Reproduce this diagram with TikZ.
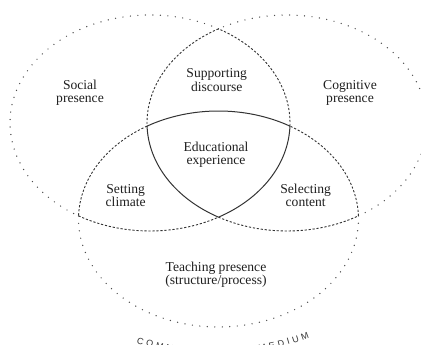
\documentclass[tikz,border=0pt]{standalone}
\usepackage{fontspec}
\setmainfont{Liberation Serif}
\newfontfamily\capsfont{Liberation Sans}
\begin{document}
\begin{tikzpicture}[x=1pt,y=1pt,
  outerline/.style={line width=1.4pt, line cap=round, dash pattern=on 0pt off 7.5pt, draw=black!70},
  innerline/.style={line width=0.9pt, dash pattern=on 2.2pt off 1.8pt, draw=black!80},
  coreline/.style={line width=1pt, draw=black!80},
  lbl/.style={align=center, inner sep=0pt, font=\fontsize{13.6}{13.4}\selectfont, text=black!88},
  arcletter/.style={inner sep=0pt, anchor=base, font=\capsfont\fontsize{9}{10}\selectfont, text=black!80}]
\useasboundingbox (0,0) rectangle (421,345);
\clip (0,0) rectangle (421,345);
\coordinate (L) at (150,222);
\coordinate (R) at (287,222);
\coordinate (B) at (218.5,126);
\coordinate (T) at (215,256);
% Social presence ellipse
\draw[outerline] (L) ++(60.7:140 and 108) arc[start angle=60.7, end angle=239.3, x radius=140, y radius=108];
\draw[innerline] (L) ++(-1.64:140 and 108) arc[start angle=-1.64, end angle=60.7, x radius=140, y radius=108];
\draw[coreline] (L) ++(-60.7:140 and 108) arc[start angle=-60.7, end angle=-1.64, x radius=140, y radius=108];
\draw[innerline] (L) ++(-120.7:140 and 108) arc[start angle=-120.7, end angle=-60.7, x radius=140, y radius=108];
% Cognitive presence ellipse
\draw[outerline] (R) ++(-59.3:140 and 108) arc[start angle=-59.3, end angle=119.3, x radius=140, y radius=108];
\draw[innerline] (R) ++(119.3:140 and 108) arc[start angle=119.3, end angle=181.64, x radius=140, y radius=108];
\draw[coreline] (R) ++(181.64:140 and 108) arc[start angle=181.64, end angle=240.7, x radius=140, y radius=108];
\draw[innerline] (R) ++(240.7:140 and 108) arc[start angle=240.7, end angle=300.7, x radius=140, y radius=108];
% Teaching presence ellipse
\draw[outerline] (B) ++(178.34:140 and 108) arc[start angle=178.34, end angle=361.66, x radius=140, y radius=108];
\draw[innerline] (B) ++(1.66:140 and 108) arc[start angle=1.66, end angle=59.3, x radius=140, y radius=108];
\draw[coreline] (B) ++(59.3:140 and 108) arc[start angle=59.3, end angle=120.7, x radius=140, y radius=108];
\draw[innerline] (B) ++(120.7:140 and 108) arc[start angle=120.7, end angle=178.34, x radius=140, y radius=108];
% labels
\node[lbl] (social) at (80,252) {Social\\presence};
\node[lbl] (support) at (216.7,265) {Supporting\\discourse};
\node[lbl] (cognitive) at (350,252) {Cognitive\\presence};
\node[lbl] (edu) at (216,190) {Educational\\experience};
\node[lbl] (setting) at (125.7,149.5) {Setting\\climate};
\node[lbl] (selecting) at (305.7,149.5) {Selecting\\content};
\node[lbl] (teaching) at (216,70) {Teaching presence\\(structure/process)};
% curved caption
\foreach \s/\ch [count=\i] in {3.07/C,12.89/O,23.19/M,33.72/M,43.78/U,53.37/N,61.07/I,68.77/C,78.13/A,87.01/T,94.23/I,102.17/O,111.99/N,127.86/M,137.69/E,147.04/D,154.74/I,162.44/U,172.50/M}{
  \pgfmathsetmacro{\ang}{253.5+(\s-3.07)*57.296/266}
  \path (T) ++(\ang:266) node[arcletter, rotate=\ang+90] (ltr\i) {\ch};
}
\end{tikzpicture}
\end{document}
